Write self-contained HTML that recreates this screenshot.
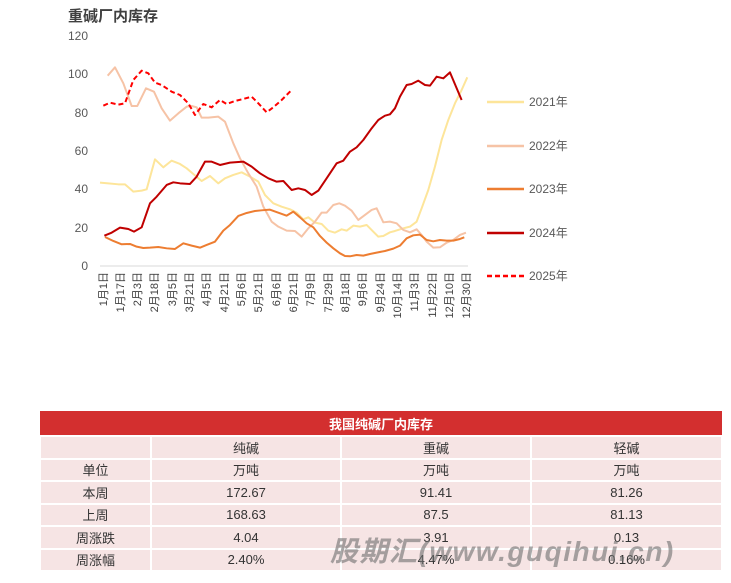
<!DOCTYPE html>
<html><head><meta charset="utf-8">
<style>
body{margin:0;background:#fff;width:731px;height:583px;overflow:hidden;font-family:"Liberation Sans","Noto Sans CJK SC",sans-serif;}
.t{position:absolute;left:68px;top:5px;font-size:15px;font-weight:bold;color:#404040;}
table{position:absolute;left:39px;top:411px;width:682px;border-collapse:collapse;font-size:13px;color:#333;table-layout:fixed;}
td{height:20.5px;text-align:center;background:#f6e4e4;border:2px solid #fff;padding:0;}
th{background:#d32f2f;color:#fff;height:22px;font-size:13px;border:0;}
.wm{position:absolute;left:330px;top:530px;font-size:28px;font-weight:bold;font-style:italic;color:rgba(110,110,110,0.6);letter-spacing:1.5px;white-space:nowrap;}
</style></head><body>
<div class="t">重碱厂内库存</div>
<svg width="731" height="400" style="position:absolute;left:0;top:0" font-family="Liberation Sans, Noto Sans CJK SC, sans-serif">
<g font-size="12" fill="#595959" text-anchor="end">
<text x="88" y="40">120</text><text x="88" y="78">100</text><text x="88" y="117">80</text><text x="88" y="155">60</text><text x="88" y="193">40</text><text x="88" y="232">20</text><text x="88" y="270">0</text>
</g>
<line x1="100" y1="266" x2="468" y2="266" stroke="#d9d9d9"/>
<g font-size="11" fill="#404040" text-anchor="end">
<text transform="translate(107,272) rotate(-90)">1月1日</text>
<text transform="translate(124,272) rotate(-90)">1月17日</text>
<text transform="translate(141,272) rotate(-90)">2月3日</text>
<text transform="translate(158,272) rotate(-90)">2月18日</text>
<text transform="translate(176,272) rotate(-90)">3月5日</text>
<text transform="translate(193,272) rotate(-90)">3月21日</text>
<text transform="translate(210,272) rotate(-90)">4月5日</text>
<text transform="translate(228,272) rotate(-90)">4月21日</text>
<text transform="translate(245,272) rotate(-90)">5月6日</text>
<text transform="translate(262,272) rotate(-90)">5月21日</text>
<text transform="translate(280,272) rotate(-90)">6月6日</text>
<text transform="translate(297,272) rotate(-90)">6月21日</text>
<text transform="translate(314,272) rotate(-90)">7月9日</text>
<text transform="translate(332,272) rotate(-90)">7月29日</text>
<text transform="translate(349,272) rotate(-90)">8月18日</text>
<text transform="translate(366,272) rotate(-90)">9月6日</text>
<text transform="translate(384,272) rotate(-90)">9月24日</text>
<text transform="translate(401,272) rotate(-90)">10月14日</text>
<text transform="translate(418,272) rotate(-90)">11月3日</text>
<text transform="translate(436,272) rotate(-90)">11月22日</text>
<text transform="translate(453,272) rotate(-90)">12月10日</text>
<text transform="translate(470,272) rotate(-90)">12月30日</text>
</g>
<g transform="translate(60,20) scale(0.3333)" fill="none" stroke-width="6" stroke-linejoin="round">
<polyline stroke="#fde59a" points="120,488 145,490 175,493 195,493 220,515 245,512 260,508 285,418 310,442 335,422 360,432 380,445 400,462 425,483 450,468 475,490 495,475 520,465 545,457 570,470 595,485 615,525 640,550 665,560 690,568 710,578 730,598 745,592 765,608 785,612 805,632 825,638 845,628 860,632 880,617 900,620 920,615 940,635 955,650 970,648 990,637 1005,633 1030,625 1050,620 1070,605 1085,565 1105,510 1125,440 1145,360 1165,300 1185,250 1205,210 1222,172"/>
<polyline stroke="#f6c3a6" points="143,167 165,142 190,190 215,258 232,258 258,205 282,215 305,265 330,302 355,280 380,260 395,258 410,262 425,293 445,293 475,290 495,305 520,370 540,415 565,460 590,500 610,560 635,605 655,620 680,632 705,633 725,650 745,625 765,605 785,578 800,578 820,555 838,550 855,557 875,572 895,600 915,585 935,570 950,565 970,607 990,605 1010,610 1030,630 1050,637 1070,628 1085,645 1100,665 1120,683 1140,682 1160,668 1180,660 1200,645 1218,638"/>
<polyline stroke="#ed7d31" points="135,651 160,663 185,673 210,672 230,680 250,684 270,683 295,681 320,685 345,687 370,670 395,677 420,683 440,675 465,665 490,632 510,615 535,588 560,579 585,573 605,571 630,569 655,578 680,587 700,575 720,592 740,610 760,622 780,648 800,668 820,685 840,700 855,708 870,709 890,705 910,707 930,702 950,698 975,693 1000,686 1020,677 1040,655 1060,646 1080,644 1100,660 1120,664 1140,660 1160,662 1180,662 1200,657 1213,652"/>
<polyline stroke="#c00000" points="133,647 155,638 180,623 205,627 222,635 245,622 270,550 290,530 320,495 340,487 360,490 390,492 410,470 435,425 455,425 480,435 510,428 550,425 575,440 600,460 625,475 650,485 670,483 695,510 715,505 735,510 755,525 775,512 800,475 830,430 850,422 870,395 890,382 910,360 935,325 955,300 975,287 990,283 1005,265 1020,230 1040,195 1055,192 1075,182 1095,195 1110,197 1130,170 1150,175 1170,157 1205,240"/>
<polyline stroke="#ff0000" stroke-dasharray="15,9" points="130,257 150,248 175,254 195,250 220,180 245,152 265,160 285,188 305,195 320,205 335,215 360,225 385,250 405,285 430,252 455,262 480,240 500,252 525,243 550,237 575,230 595,250 620,277 640,262 665,240 695,210"/>
</g>
<g stroke-width="2.5">
<line x1="487" y1="102" x2="524" y2="102" stroke="#fde59a"/>
<line x1="487" y1="146" x2="524" y2="146" stroke="#f6c3a6"/>
<line x1="487" y1="189" x2="524" y2="189" stroke="#ed7d31"/>
<line x1="487" y1="233" x2="524" y2="233" stroke="#c00000"/>
<line x1="487" y1="276" x2="524" y2="276" stroke="#ff0000" stroke-dasharray="5,3"/>
</g>
<g font-size="12" fill="#595959">
<text x="529" y="106">2021年</text><text x="529" y="150">2022年</text><text x="529" y="193">2023年</text><text x="529" y="237">2024年</text><text x="529" y="280">2025年</text>
</g>
</svg>
<table>
<colgroup><col style="width:111px"><col style="width:190px"><col style="width:190px"><col style="width:191px"></colgroup>
<tr><th colspan="4">我国纯碱厂内库存</th></tr>
<tr><td></td><td>纯碱</td><td>重碱</td><td>轻碱</td></tr>
<tr><td>单位</td><td>万吨</td><td>万吨</td><td>万吨</td></tr>
<tr><td>本周</td><td>172.67</td><td>91.41</td><td>81.26</td></tr>
<tr><td>上周</td><td>168.63</td><td>87.5</td><td>81.13</td></tr>
<tr><td>周涨跌</td><td>4.04</td><td>3.91</td><td>0.13</td></tr>
<tr><td>周涨幅</td><td>2.40%</td><td>4.47%</td><td>0.16%</td></tr>
</table>
<div class="wm">股期汇(www.guqihui.cn)</div>
</body></html>
